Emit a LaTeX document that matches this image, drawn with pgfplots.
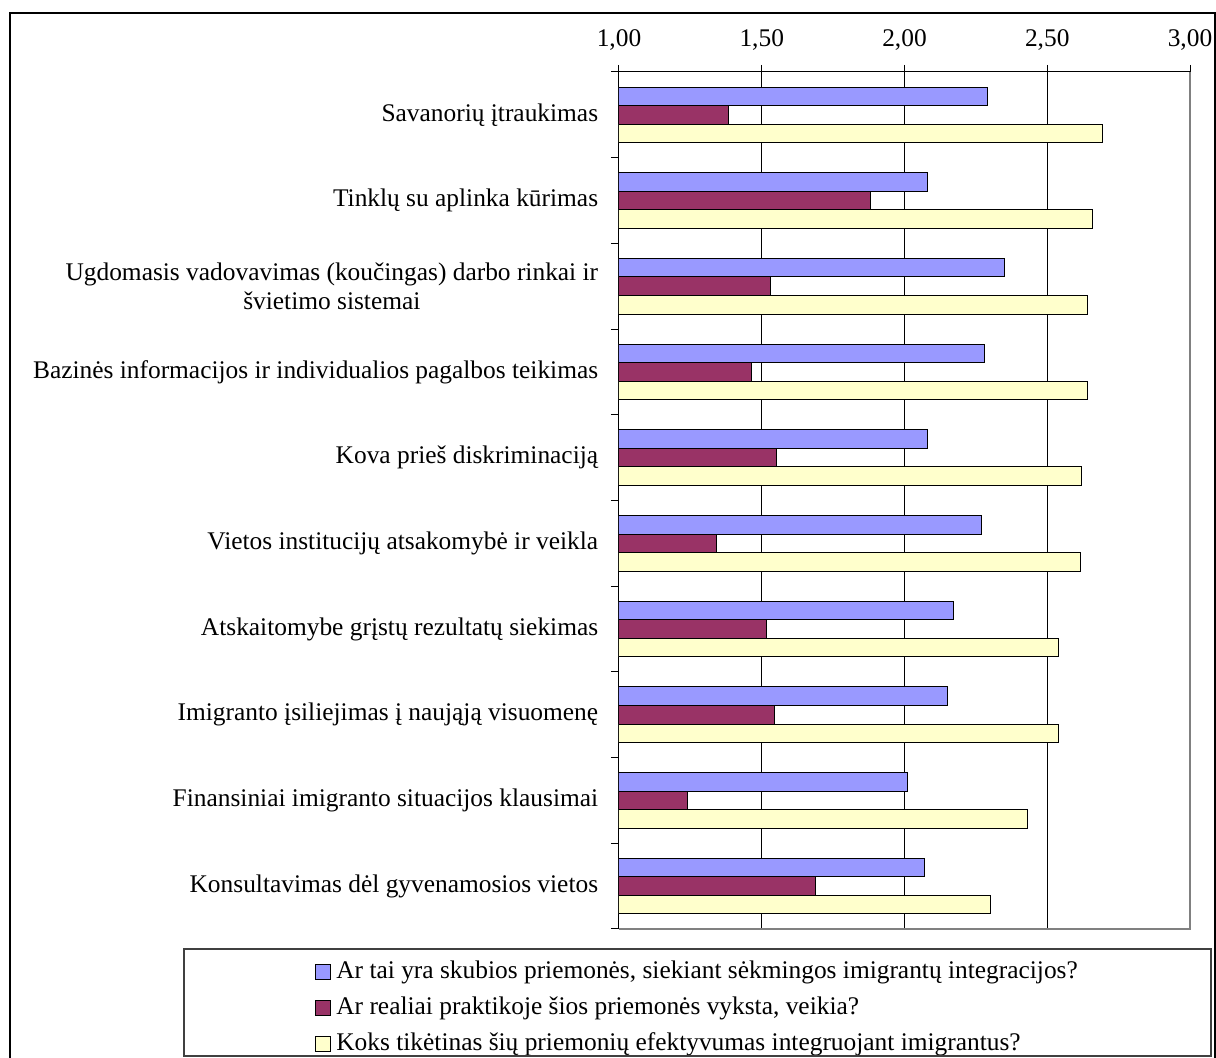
\documentclass[border=0pt]{standalone}
\usepackage{fontspec}
\setmainfont{Liberation Serif}
\usepackage{pgfplots}
\pgfplotsset{compat=1.18}
\definecolor{cblue}{HTML}{9999FF}
\definecolor{cred}{HTML}{993366}
\definecolor{cyel}{HTML}{FFFFCC}
\begin{document}
\fontsize{12.7}{14.5}\selectfont
\begin{tikzpicture}[x=1pt,y=1pt]
\path[use as bounding box] (0,0) rectangle (608,-529);
\draw[line width=0.9pt] (5,-530) -- (5,-6.5) -- (607.5,-6.5) -- (607.5,-530);
\begin{axis}[
  name=ax,
  at={(309.5pt,-36pt)}, anchor=north west,
  scale only axis, width=285.5pt, height=428.5pt,
  xbar, bar width=0.216,
  xmin=1, xmax=3, ymin=-0.5, ymax=9.5,
  axis x line*=top, axis y line*=left,
  axis line style={black, line width=0.5pt},
  xtick={1,1.5,2,2.5,3},
  xticklabels={{1,00},{1,50},{2,00},{2,50},{3,00}},
  xticklabel style={yshift=3pt},
  xmajorgrids, grid style={black, line width=0.5pt},
  tick align=outside, major tick length=3.5pt, minor tick length=4pt,
  major x tick style={black, line width=0.5pt},
  ytick={0,...,9},
  major y tick style={draw=none},
  minor ytick={-0.5,0.5,...,9.5},
  minor y tick style={black, line width=0.5pt},
  yticklabels={
    {Konsultavimas dėl gyvenamosios vietos},
    {Finansiniai imigranto situacijos klausimai},
    {Imigranto įsiliejimas į naująją visuomenę},
    {Atskaitomybe grįstų rezultatų siekimas},
    {Vietos institucijų atsakomybė ir veikla},
    {Kova prieš diskriminaciją},
    {Bazinės informacijos ir individualios pagalbos teikimas},
    {Ugdomasis vadovavimas (koučingas) darbo rinkai ir\\švietimo sistemai},
    {Tinklų su aplinka kūrimas},
    {Savanorių įtraukimas}},
  yticklabel style={align=center, anchor=east, xshift=-2.5pt},
  every axis plot/.append style={draw=black, line width=0.5pt},
  legend style={at={(axis description cs:-0.5324,-0.03734)}, anchor=north west,
    draw=none, fill=none, inner sep=0pt, row sep=7pt,
    nodes={inner sep=0pt, text height=8.5pt, text depth=2.5pt},
    /tikz/every odd column/.append style={column sep=2.5pt}},
  legend cell align=left,
  legend image code/.code={\draw[#1, draw=black, line width=0.5pt] (0pt,-3.75pt) rectangle (7.5pt,3.75pt);},
]
\addplot[fill=cblue, bar shift=0.216] coordinates {
  (2.29,9) (2.08,8) (2.35,7) (2.28,6) (2.08,5) (2.27,4) (2.17,3) (2.15,2) (2.01,1) (2.07,0)};
\addplot[fill=cred, bar shift=0] coordinates {
  (1.385,9) (1.88,8) (1.53,7) (1.465,6) (1.55,5) (1.34,4) (1.515,3) (1.545,2) (1.24,1) (1.69,0)};
\addplot[fill=cyel, bar shift=-0.216] coordinates {
  (2.695,9) (2.66,8) (2.64,7) (2.64,6) (2.62,5) (2.615,4) (2.54,3) (2.54,2) (2.43,1) (2.30,0)};
\legend{{Ar tai yra skubios priemonės, siekiant sėkmingos imigrantų integracijos?},
  {Ar realiai praktikoje šios priemonės vyksta, veikia?},
  {Koks tikėtinas šių priemonių efektyvumas integruojant imigrantus?}}
\end{axis}
\draw[gray, line width=0.6pt] (ax.north east) -- (ax.south east) -- (ax.south west);
\draw[black!75, line width=0.6pt] (92,-474.5) rectangle (605.5,-528);
\end{tikzpicture}
\end{document}
